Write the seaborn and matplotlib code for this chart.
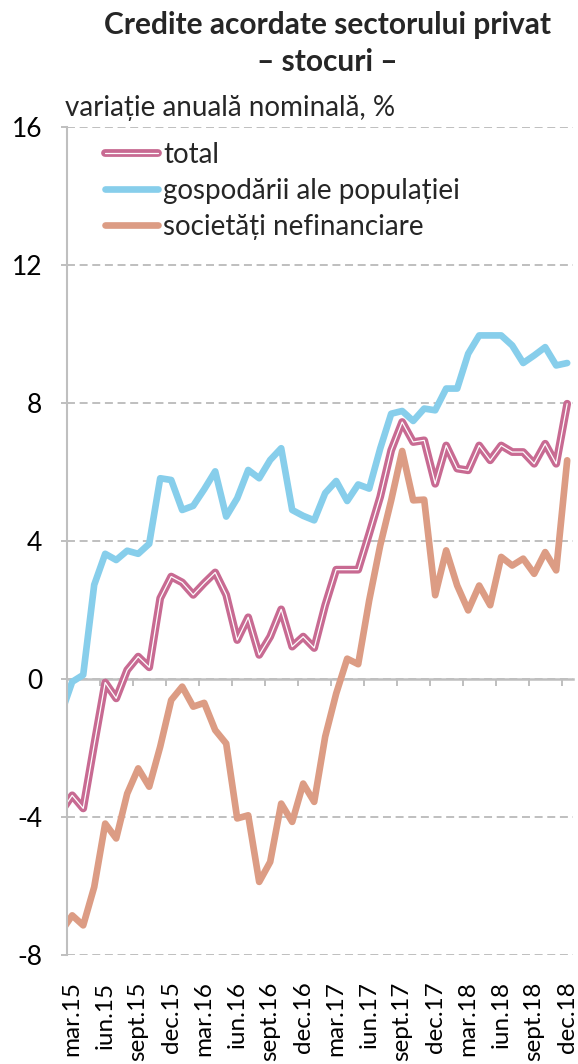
import numpy as np
import pandas as pd
import matplotlib
matplotlib.use("Agg")
import matplotlib.pyplot as plt
import seaborn as sns

# tick labels, one every 3 months (mar.15 .. dec.18)
etichete = ["mar.15", "iun.15", "sept.15", "dec.15", "mar.16", "iun.16", "sept.16", "dec.16",
            "mar.17", "iun.17", "sept.17", "dec.17", "mar.18", "iun.18", "sept.18", "dec.18"]

# monthly values, feb.15 .. dec.18
# (feb.15 only shows as the short piece cut off by the left axis)
total = [-3.84,
         -3.37, -3.75, -1.90, -0.10, -0.56, 0.26, 0.65, 0.34, 2.34, 2.97, 2.80, 2.44,
         2.78, 3.09, 2.44, 1.13, 1.79, 0.70, 1.23, 2.02, 0.94, 1.23, 0.90, 2.14,
         3.17, 3.17, 3.17, 4.21, 5.28, 6.63, 7.45, 6.87, 6.92, 5.66, 6.77, 6.10,
         6.05, 6.77, 6.34, 6.77, 6.58, 6.58, 6.24, 6.82, 6.24, 7.98]
gospodarii = [-1.00,
              -0.08, 0.12, 2.73, 3.63, 3.45, 3.72, 3.63, 3.92, 5.82, 5.77, 4.90, 5.02,
              5.50, 6.02, 4.71, 5.24, 6.06, 5.82, 6.35, 6.69, 4.90, 4.73, 4.60, 5.39,
              5.74, 5.16, 5.64, 5.52, 6.68, 7.69, 7.77, 7.48, 7.84, 7.79, 8.42, 8.42,
              9.43, 9.96, 9.96, 9.96, 9.67, 9.16, 9.38, 9.62, 9.09, 9.16]
societati = [-7.32,
             -6.85, -7.14, -6.03, -4.19, -4.62, -3.32, -2.59, -3.12, -1.96, -0.61, -0.22, -0.80,
             -0.69, -1.48, -1.87, -4.04, -3.95, -5.88, -5.30, -3.61, -4.14, -3.03, -3.56, -1.67,
             -0.42, 0.59, 0.43, 2.28, 3.87, 5.18, 6.61, 5.18, 5.20, 2.43, 3.73, 2.71,
             1.99, 2.71, 2.14, 3.54, 3.29, 3.49, 3.05, 3.68, 3.15, 6.34]

serii = ["total", "gospodării ale populației", "societăți nefinanciare"]

df = pd.DataFrame({"luna": np.arange(-1, len(total) - 1),
                   "total": total,
                   "gospodarii": gospodarii,
                   "societati": societati})

ROZ = "#C86A92"
ALBASTRU = "#87CEEB"
SOMON = "#DC9C84"
GRI = "#BFBFBF"

sns.set_style("white")
plt.rcParams['font.family'] = ['Lato', 'DejaVu Sans']
plt.rcParams['axes.unicode_minus'] = False

fig = plt.figure(figsize=(5.78, 10.64), dpi=100)
ax = fig.add_axes([0.1154, 0.1024, 0.8754, 0.7782])

kw = dict(solid_joinstyle="round", solid_capstyle="round")
sns.lineplot(data=df, x="luna", y="total", color=ROZ, lw=5.6, ax=ax, **kw)
sns.lineplot(data=df, x="luna", y="total", color="white", lw=0.9, ax=ax, **kw)
sns.lineplot(data=df, x="luna", y="gospodarii", color=ALBASTRU, lw=4.8, ax=ax, **kw)
sns.lineplot(data=df, x="luna", y="societati", color=SOMON, lw=4.8, ax=ax, **kw)
linii = list(ax.lines)

ax.set_xlim(-0.5, 45.5)
ax.set_ylim(-8, 16)
ax.set_xlabel("")
ax.set_ylabel("")

# y axis + dashed grid
ax.set_yticks(range(-8, 17, 4))
ax.yaxis.grid(True, color=GRI, lw=1.4, linestyle=(0, (4.1, 2.4)))
ax.xaxis.grid(False)
ax.tick_params(axis="y", left=True, length=4.5, width=1.4, color=GRI, pad=13,
               labelsize=19, labelcolor="black")

# category labels at the bottom of the plot
ax.set_xticks(np.arange(0, 46, 3))
ax.set_xticklabels(etichete, rotation=90)
ax.tick_params(axis="x", bottom=True, length=0, pad=19, labelsize=17.5, labelcolor="black")

for s in ["top", "right", "bottom"]:
    ax.spines[s].set_visible(False)
ax.spines["left"].set_color(GRI)
ax.spines["left"].set_linewidth(1.5)

# horizontal axis line at 0 with ticks between categories
zero = ax.secondary_xaxis(8 / 24)
zero.set_xticks(np.arange(-0.5, 45, 3))
zero.tick_params(axis="x", length=5, width=1.4, color=GRI, direction="out", labelbottom=False)
zero.spines["bottom"].set_color(GRI)
zero.spines["bottom"].set_linewidth(1.8)

ax.legend([(linii[0], linii[1]), linii[2], linii[3]], serii,
          loc="upper left", bbox_to_anchor=(0.0757, 0.982), frameon=False,
          fontsize=20, handlelength=1.9, handletextpad=0.2, labelspacing=0.36,
          borderpad=0, borderaxespad=0)

fig.text(0.566, 0.9765, "Credite acordate sectorului privat", ha="center", va="center",
         fontsize=21.5, fontweight="bold")
fig.text(0.566, 0.9417, "– stocuri –", ha="center", va="center",
         fontsize=21.5, fontweight="bold")
fig.text(0.1125, 0.8985, "variație anuală nominală, %", ha="left", va="center", fontsize=20)

fig.savefig("out.png", dpi=100)
